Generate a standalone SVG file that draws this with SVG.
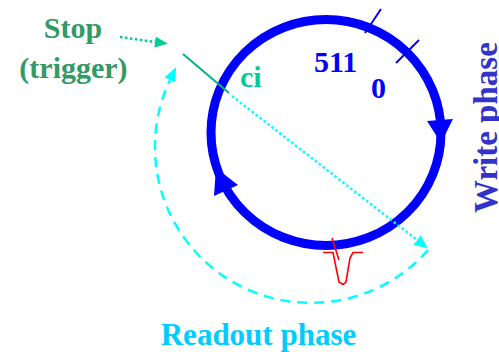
<svg xmlns="http://www.w3.org/2000/svg" width="499" height="352" viewBox="0 0 499 352">
<style>
  .t { font-family: "Liberation Serif", "Times New Roman", serif; font-weight: bold; }
  .ring { fill: none; stroke: #0000ff; stroke-width: 9; }
  .blue { fill: #0000ff; }
  .tick { stroke: #0000ff; stroke-width: 2; }
  .cyan-dot { fill: none; stroke: #00ffff; stroke-width: 2.5; stroke-dasharray: 2.5 2.5; }
  .cyan-dash { fill: none; stroke: #00ffff; stroke-width: 2.5; stroke-dasharray: 10 7; }
  .green-dot { fill: none; stroke: #00cc99; stroke-width: 2.5; stroke-dasharray: 2.5 2.5; }
  .green-line { stroke: #00b386; stroke-width: 2; }
  .red { fill: none; stroke: #ff0000; stroke-width: 1.6; }
</style>
<defs>
  <marker id="arrCyan" markerUnits="userSpaceOnUse" viewBox="0 0 14 12" refX="0" refY="6" markerWidth="14" markerHeight="12" orient="auto">
    <path d="M0,0 L14,6 L0,12 z" fill="#00ffff"/>
  </marker>
  <marker id="arrGreen" markerUnits="userSpaceOnUse" viewBox="0 0 13 11" refX="0" refY="5.5" markerWidth="13" markerHeight="11" orient="auto">
    <path d="M0,0 L13,5.5 L0,11 z" fill="#00cc99"/>
  </marker>
</defs>

<g id="ring">
  <ellipse class="ring" cx="326" cy="132.5" rx="115" ry="113"/>
  <polygon class="blue" points="427,121 453,119 441,143"/>
  <polygon class="blue" points="216,168 214,196 238,185"/>
  <line class="tick" x1="365" y1="33" x2="381" y2="9"/>
  <line class="tick" x1="396" y1="63" x2="419" y2="40"/>
</g>

<g id="labels">
  <text class="t" x="314" y="72" font-size="30" fill="#0000ff">511</text>
  <text class="t" x="371" y="98" font-size="30" fill="#0000ff">0</text>
  <text class="t" x="240" y="87" font-size="30" fill="#00cc99">ci</text>
  <text class="t" x="73" y="38" font-size="30" fill="#339966" text-anchor="middle">Stop</text>
  <text class="t" x="73.5" y="78" font-size="30" fill="#339966" text-anchor="middle">(trigger)</text>
  <text class="t" x="258.5" y="345" font-size="31" fill="#00ccff" text-anchor="middle">Readout phase</text>
  <text class="t" font-size="33" fill="#3333cc" transform="translate(497,213) rotate(-90)">Write phase</text>
</g>

<g id="signal">
  <polyline class="red" points="323,252.5 333,252.5 339,282 343,284.5 346,282 350,258 353,252.5 363,252.5"/>
  <line class="red" x1="332" y1="238" x2="339" y2="260"/>
</g>

<g id="connectors">
  <line class="green-dot" x1="120" y1="37" x2="155" y2="42" marker-end="url(#arrGreen)"/>
  <line class="green-line" x1="183" y1="54" x2="229" y2="93"/>
  <line class="cyan-dot" x1="232" y1="96" x2="417" y2="240" marker-end="url(#arrCyan)"/>
  <path class="cyan-dash" d="M428,250 A156,156 0 0 1 170,80" marker-end="url(#arrCyan)"/>
</g>
</svg>
